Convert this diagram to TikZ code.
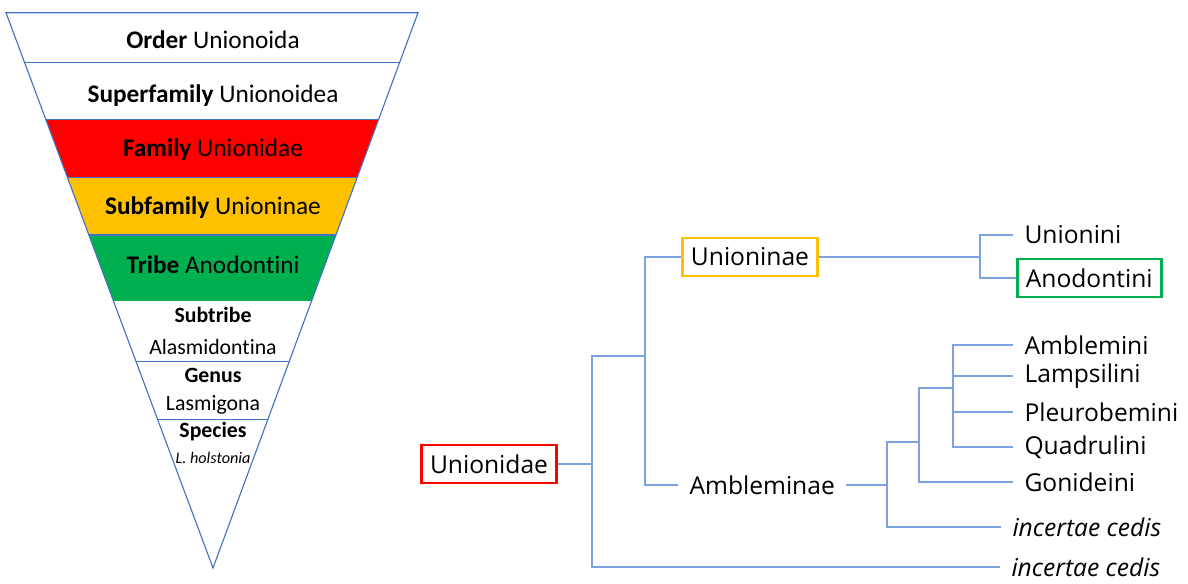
\documentclass[tikz,border=0pt]{standalone}
\usepackage{fontspec}
\setmainfont{Carlito}[Ligatures=CommonOff]
\newfontfamily\treefont{Open Sans}[Ligatures=CommonOff]
\usetikzlibrary{positioning}
\definecolor{famred}{HTML}{FF0000}
\definecolor{subfamorange}{HTML}{FFC000}
\definecolor{tribegreen}{HTML}{00B050}
\definecolor{edgeblue}{HTML}{4472C4}
\definecolor{branchblue}{HTML}{7EA1E0}
\tikzset{
  rank/.style={font=\fontsize{18}{20}\selectfont, inner sep=0pt},
  subrank/.style={font=\fontsize{15.5}{17}\selectfont, inner sep=0pt},
  taxon/.style={font=\treefont\fontsize{17.5}{20}\selectfont, anchor=west, inner xsep=8pt, inner ysep=1pt},
  taxonbox/.style={font=\treefont\fontsize{17.5}{20}\selectfont, draw, line width=2pt, inner xsep=6pt, minimum height=27pt},
  branch/.style={draw=branchblue, line width=1pt}
}

\begin{document}
\begin{tikzpicture}[x=0.025cm,y=-0.025cm]
    \useasboundingbox (0,0) rectangle (1188,584);
    % ranks
    \begin{scope}
        \clip (6,12.7) -- (418,12.7) -- (213,568) -- cycle;
        \fill[famred] (0,119.3) rectangle (430,177.7);
        \fill[subfamorange] (0,177.7) rectangle (430,235);
        \fill[tribegreen] (0,235) rectangle (430,301);
        \foreach \y in {62.7,119.3,177.7,235,361.7,419.3}
            \draw[edgeblue, line width=0.8pt] (0,\y) -- (430,\y);
    \end{scope}
    \draw[edgeblue, line width=0.8pt] (6,12.7) -- (418,12.7) -- (213,568) -- cycle;
    \node[rank] (order) at (213,40) {\textbf{Order} Unionoida};
    \node[rank] (superfamily) at (213,96) {\textbf{Superfamily} Unionoidea};
    \node[rank] (family) at (213,150) {\textbf{Family} Unionidae};
    \node[rank] (subfamily) at (213,208) {\textbf{Subfamily} Unioninae};
    \node[rank] (tribe) at (213,265) {\textbf{Tribe} Anodontini};
    \node[subrank] (subtribe) at (213,315) {\textbf{Subtribe}};
    \node[subrank] (alasmidontina) at (213,347) {Alasmidontina};
    \node[subrank] (genus) at (213,375) {\textbf{Genus}};
    \node[subrank] (lasmigona) at (213,405) {Lasmigona};
    \node[subrank] (species) at (213,432) {\textbf{Species}};
    \node[font=\fontsize{11.5}{13}\selectfont\itshape, inner sep=0pt] (holstonia) at (213,458) {L. holstonia};
    % tree
    \node[taxonbox, draw=famred] (unionidae) at (489,464) {Unionidae};
    \node[taxonbox, draw=subfamorange] (unioninae) at (750,257) {Unioninae};
    \node[taxon] (ambleminae) at (678,485) {Ambleminae};
    \node[taxon] (unionini) at (1013,235) {Unionini};
    \node[taxonbox, draw=tribegreen, anchor=west] (anodontini) at (1016,278) {Anodontini};
    \foreach \name/\y in {Amblemini/345,Lampsilini/376,Pleurobemini/412,Quadrulini/447,Gonideini/482}
        \node[taxon] (\name) at (1013,\y) {\name};
    \node[taxon] (incertae1) at (1001,527) {\textit{incertae cedis}};
    \node[taxon] (incertae2) at (1000,567) {\textit{incertae cedis}};
    \coordinate (rootsplit) at (592,464);
    \coordinate (subsplit) at (645,356);
    \coordinate (unisplit) at (980,257);
    \coordinate (amblsplit) at (887,485);
    \coordinate (gonsplit) at (919,442);
    \coordinate (tribesplit) at (953,388);
    \draw[branch] (unionidae) -- (rootsplit);
    \draw[branch] (rootsplit) |- (subsplit);
    \draw[branch] (rootsplit) |- (incertae2.west);
    \draw[branch] (subsplit) |- (unioninae.west);
    \draw[branch] (subsplit) |- (ambleminae.west);
    \draw[branch] (unioninae.east) -- (unisplit);
    \draw[branch] (unisplit) |- (unionini.west);
    \draw[branch] (unisplit) |- (anodontini.west);
    \draw[branch] (ambleminae.east) -- (amblsplit);
    \draw[branch] (amblsplit) |- (gonsplit);
    \draw[branch] (amblsplit) |- (incertae1.west);
    \draw[branch] (gonsplit) |- (tribesplit);
    \draw[branch] (gonsplit) |- (Gonideini.west);
    \foreach \name in {Amblemini,Lampsilini,Pleurobemini,Quadrulini}
        \draw[branch] (tribesplit) |- (\name.west);
\end{tikzpicture}
\end{document}
